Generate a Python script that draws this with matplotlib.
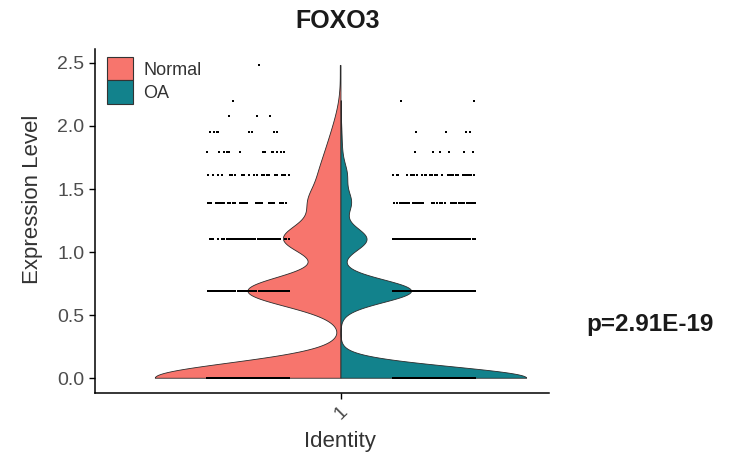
import matplotlib
matplotlib.use("Agg")
import matplotlib.pyplot as plt
import numpy as np
from matplotlib.patches import Patch

plt.rcParams['font.family'] = ['Liberation Sans', 'DejaVu Sans']

# Expression levels (log-normalised) and number of cells at each level
levels = [0.00, 0.69, 1.10, 1.39, 1.61, 1.79, 1.95, 2.08, 2.20, 2.48]
normal_counts = [300, 150, 90, 45, 25, 15, 8, 3, 1, 1]
oa_counts = [1000, 380, 140, 55, 32, 6, 4, 0, 2, 0]

groups = ['Normal', 'OA']
colors = ['#F7756D', '#12828C']
bandwidths = [0.12, 0.09]
gene = 'FOXO3'
p_text = 'p=2.91E-19'

fig = plt.figure(figsize=(7.34, 4.57), dpi=100)
ax = fig.add_axes([95 / 734, 1 - 393 / 457, 454 / 734, 344 / 457])

center = 1.0
half_width = 0.45
rng = np.random.default_rng(7)


def kde(values, bw, grid):
    d = (grid[:, None] - values[None, :]) / bw
    return np.exp(-0.5 * d ** 2).sum(axis=1)


for side, (counts, col, bw) in enumerate(zip([normal_counts, oa_counts], colors, bandwidths)):
    vals = np.repeat(levels, counts)
    grid = np.linspace(vals.min(), vals.max(), 512)
    dens = kde(vals, bw, grid)
    w = dens / dens.max() * half_width
    sign = -1 if side == 0 else 1
    xs = np.concatenate([[center], center + sign * w, [center]])
    ys = np.concatenate([[grid[0]], grid, [grid[-1]]])
    ax.fill(xs, ys, facecolor=col, edgecolor='#2b2b2b', linewidth=0.6, zorder=2)

    # jittered cells beside each half
    jx = center + sign * 0.225 + rng.uniform(-0.1, 0.1, len(vals))
    ax.scatter(jx, vals, s=2.2, c='black', marker='s', linewidths=0, zorder=3)

ax.set_xlim(0.404, 1.504)
ax.set_ylim(-0.117, 2.61)
ax.set_yticks([0.0, 0.5, 1.0, 1.5, 2.0, 2.5])
ax.set_yticklabels(['0.0', '0.5', '1.0', '1.5', '2.0', '2.5'])
ax.set_xticks([center])
ax.set_xticklabels(['1'], rotation=45, ha='center', va='top')

for s in ['top', 'right']:
    ax.spines[s].set_visible(False)
for s in ['left', 'bottom']:
    ax.spines[s].set_linewidth(1.1)
    ax.spines[s].set_color('black')
ax.tick_params(axis='both', colors='black', labelcolor='#4d4d4d', labelsize=14,
               length=4, width=1, direction='out')

fig.text(33 / 734, 1 - 199 / 457, 'Expression Level', rotation=90, ha='center', va='center',
         fontsize=16, color='#333333')
fig.text(340 / 734, 1 - 441 / 457, 'Identity', ha='center', va='center',
         fontsize=16, color='#333333')
fig.text(338 / 734, 1 - 21 / 457, gene, ha='center', va='center',
         fontsize=18, fontweight='bold', color='#1a1a1a')
fig.text(586 / 734, 1 - 325 / 457, p_text, ha='left', va='center',
         fontsize=17.5, fontweight='bold', color='#1a1a1a')

handles = [Patch(facecolor=c, edgecolor='#333333', linewidth=0.8, label=g)
           for c, g in zip(colors, groups)]
ax.legend(handles=handles, loc='upper left', bbox_to_anchor=(0.027, 0.976), frameon=False,
          fontsize=13, handlelength=1.45, handleheight=1.6, labelspacing=0.0,
          handletextpad=0.55, borderpad=0, borderaxespad=0, labelcolor='#333333')

fig.savefig('out.png', dpi=100)
